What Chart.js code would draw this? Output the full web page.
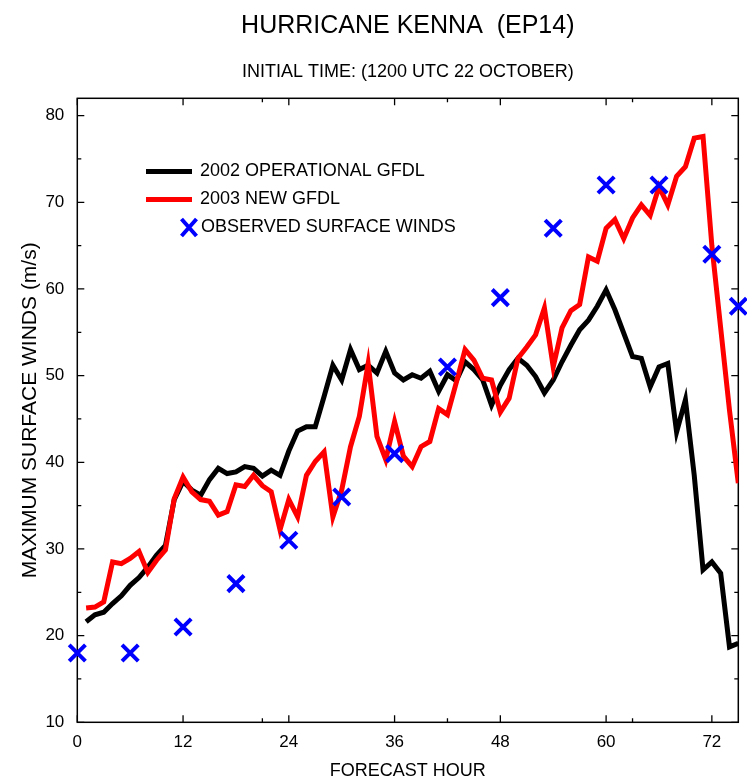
<!DOCTYPE html>
<html>
<head>
<meta charset="utf-8">
<script src="https://cdn.jsdelivr.net/npm/chart.js@4.4.1/dist/chart.umd.min.js"></script>
<style>
html,body{margin:0;padding:0;background:#ffffff;}
canvas{display:block;}
</style>
</head>
<body>
<canvas id="c" width="747" height="783"></canvas>
<script>
// ---------- DATA ----------
const chartTitle = 'HURRICANE KENNA  (EP14)';
const chartSubtitle = 'INITIAL TIME: (1200 UTC 22 OCTOBER)';
const xAxisTitle = 'FORECAST HOUR';
const yAxisTitle = 'MAXIMUM SURFACE WINDS (m/s)';
const seriesLabels = ['2002 OPERATIONAL GFDL', '2003 NEW GFDL', 'OBSERVED SURFACE WINDS'];

const forecastHours = [1,2,3,4,5,6,7,8,9,10,11,12,13,14,15,16,17,18,19,20,
  21,22,23,24,25,26,27,28,29,30,31,32,33,34,35,36,37,38,39,40,
  41,42,43,44,45,46,47,48,49,50,51,52,53,54,55,56,57,58,59,60,
  61,62,63,64,65,66,67,68,69,70,71,72,73,74,75];

const gfdl2002 = [21.6,22.4,22.7,23.7,24.6,25.8,26.7,27.9,29.3,30.4,35.7,37.8,36.8,36.2,38.0,39.3,38.7,38.9,39.5,39.3,
  38.4,39.1,38.5,41.3,43.6,44.1,44.1,47.6,51.2,49.5,53.0,50.7,51.2,50.3,52.8,50.3,49.5,50.1,49.7,50.5,
  48.2,50.1,49.4,51.6,50.7,49.5,46.6,48.9,50.7,52.0,51.2,49.9,48.0,49.5,51.6,53.5,55.3,56.4,58.0,59.9,
  57.6,54.9,52.2,52.0,48.7,51.0,51.4,43.5,47.2,38.5,27.6,28.5,27.2,18.7,19.1];

const gfdl2003 = [23.2,23.3,23.9,28.5,28.3,28.9,29.7,27.3,28.7,29.9,35.8,38.3,36.6,35.7,35.5,33.9,34.3,37.4,37.2,38.5,
  37.3,36.6,32.2,35.7,33.7,38.5,40.1,41.2,33.7,36.8,41.8,45.3,51.4,43.0,40.3,44.7,40.7,39.5,41.8,42.4,
  46.2,45.5,49.2,53.0,51.8,49.7,49.5,45.8,47.4,52.0,53.3,54.7,57.8,51.0,55.5,57.5,58.2,63.7,63.2,67.0,
  68.0,65.8,68.2,69.7,68.5,71.8,69.7,73.0,74.1,77.4,77.6,65.0,55.5,46.0,37.6];

const obsHours = [0,6,12,18,24,30,36,42,48,54,60,66,72,75];
const obsWinds = [18,18,21,26,31,36,41,51,59,67,72,72,64,58];

const xTickLabels = [0,12,24,36,48,60,72];
const xMinorTicks = [21,42,63];
const yTickLabels = [10,20,30,40,50,60,70,80];
const yMinorTicks = [15,25,35,45,55,65,75];

// ---------- CHART ----------
const FONT = "'Liberation Sans', Arial, Helvetica, sans-serif";
Chart.defaults.font.family = FONT;
Chart.defaults.color = '#000000';

const toXY = (xs, ys) => xs.map((x, i) => ({x: x, y: ys[i]}));

const framePlugin = {
  id: 'frameTicks',
  beforeDatasetsDraw(chart) {
    const {ctx, chartArea: a, scales: {x, y}} = chart;
    ctx.save();
    ctx.strokeStyle = '#000000';
    ctx.lineWidth = 1.5;
    ctx.strokeRect(a.left, a.top, a.right - a.left, a.bottom - a.top);
    ctx.lineWidth = 1.3;
    ctx.beginPath();
    const xt = (v, len) => {
      const px = x.getPixelForValue(v);
      ctx.moveTo(px, a.bottom); ctx.lineTo(px, a.bottom - len);
      ctx.moveTo(px, a.top); ctx.lineTo(px, a.top + len);
    };
    const yt = (v, len) => {
      const py = y.getPixelForValue(v);
      ctx.moveTo(a.left, py); ctx.lineTo(a.left + len, py);
      ctx.moveTo(a.right, py); ctx.lineTo(a.right - len, py);
    };
    xTickLabels.forEach(v => xt(v, 7));
    xMinorTicks.forEach(v => xt(v, 4));
    yTickLabels.forEach(v => yt(v, 7));
    yMinorTicks.forEach(v => yt(v, 4));
    ctx.stroke();
    ctx.restore();
  }
};

const legendPlugin = {
  id: 'insideLegend',
  afterDatasetsDraw(chart) {
    const ctx = chart.ctx;
    ctx.save();
    ctx.font = '18px ' + FONT;
    ctx.textBaseline = 'middle';
    ctx.textAlign = 'left';
    chart.data.datasets.forEach((ds, i) => {
      const yy = 171.5 + i * 28;
      if (ds.type === 'scatter') {
        const cx = 189, cy = yy;
        ctx.strokeStyle = ds.borderColor;
        ctx.lineWidth = 4;
        ctx.beginPath();
        ctx.moveTo(cx - 7.5, cy - 8.5); ctx.lineTo(cx + 7.5, cy + 8.5);
        ctx.moveTo(cx + 7.5, cy - 8.5); ctx.lineTo(cx - 7.5, cy + 8.5);
        ctx.stroke();
        ctx.fillStyle = '#000000';
        ctx.fillText(ds.label, 201, yy);
      } else {
        ctx.strokeStyle = ds.borderColor;
        ctx.lineWidth = 5;
        ctx.beginPath();
        ctx.moveTo(146, yy); ctx.lineTo(192, yy);
        ctx.stroke();
        ctx.fillStyle = '#000000';
        ctx.fillText(ds.label, 200, yy);
      }
    });
    ctx.restore();
  }
};

new Chart(document.getElementById('c'), {
  type: 'line',
  data: {
    datasets: [
      {
        type: 'line', label: seriesLabels[0], data: toXY(forecastHours, gfdl2002),
        borderColor: '#000000', borderWidth: 5, pointRadius: 0, tension: 0, fill: false, order: 3
      },
      {
        type: 'line', label: seriesLabels[1], data: toXY(forecastHours, gfdl2003),
        borderColor: '#ff0000', borderWidth: 5, pointRadius: 0, tension: 0, fill: false, order: 2
      },
      {
        type: 'scatter', label: seriesLabels[2], data: toXY(obsHours, obsWinds),
        borderColor: '#0000ff', backgroundColor: '#0000ff', pointStyle: 'crossRot',
        pointRadius: 11.5, pointBorderWidth: 4, showLine: false, clip: false, order: 1
      }
    ]
  },
  options: {
    responsive: false,
    animation: false,
    devicePixelRatio: 1,
    layout: {autoPadding: false, padding: {left: 0, right: 8.7, top: 0, bottom: 0}},
    plugins: {
      legend: {display: false},
      tooltip: {enabled: false},
      title: {
        display: true, text: chartTitle, color: '#000000', fullSize: false,
        font: {size: 25, weight: 'normal', lineHeight: 1.2},
        padding: {top: 11, bottom: 20}
      },
      subtitle: {
        display: true, text: chartSubtitle, color: '#000000', fullSize: false,
        font: {size: 18, weight: 'normal', lineHeight: 1.2},
        padding: {top: 0, bottom: 15.7}
      }
    },
    scales: {
      x: {
        type: 'linear', min: 0, max: 75,
        grid: {display: false, drawTicks: false},
        border: {display: false},
        afterBuildTicks: s => { s.ticks = xTickLabels.map(v => ({value: v})); },
        afterFit: s => { s.height = 60.7; s.paddingLeft = 0; s.paddingRight = 0; },
        ticks: {font: {size: 17}, color: '#000000', padding: 10, maxRotation: 0, autoSkip: false,
          callback: v => String(v)},
        title: {display: true, text: xAxisTitle, color: '#000000',
          font: {size: 18, lineHeight: 1.2}, padding: {top: 0, bottom: 1}}
      },
      y: {
        type: 'linear', min: 10, max: 82,
        grid: {display: false, drawTicks: false},
        border: {display: false},
        afterBuildTicks: s => { s.ticks = yTickLabels.map(v => ({value: v})); },
        afterFit: s => { s.width = 77.3; s.paddingTop = 0; s.paddingBottom = 0; },
        ticks: {font: {size: 17}, color: '#000000', padding: 13, autoSkip: false,
          callback: v => String(v)},
        title: {display: true, text: yAxisTitle, color: '#000000',
          font: {size: 21, lineHeight: 1.2}, padding: {top: 17.4, bottom: 0}}
      }
    }
  },
  plugins: [framePlugin, legendPlugin]
});
</script>
</body>
</html>
